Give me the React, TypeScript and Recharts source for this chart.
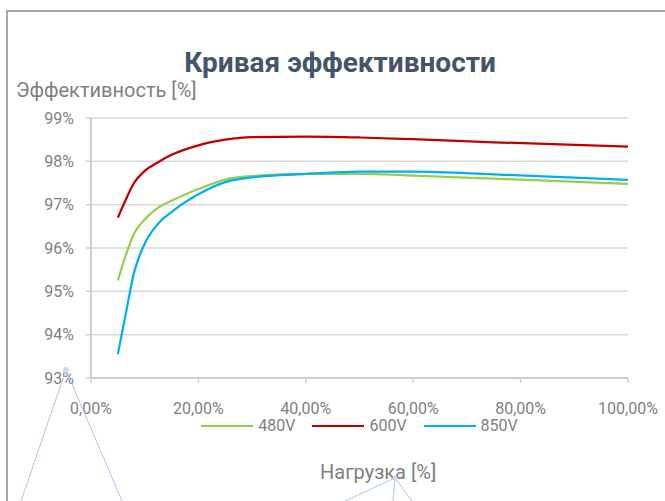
import React from "react";
import { CartesianGrid, Line, LineChart, XAxis, YAxis } from "recharts";

// load (%) and efficiency (%)
const load = [5, 6.5, 8, 10, 12.5, 15, 20, 25, 30, 40, 50, 60, 75, 100];
const eff480 = [95.25, 95.84, 96.33, 96.66, 96.93, 97.09, 97.36, 97.58, 97.66, 97.71, 97.71, 97.67, 97.6, 97.48];
const eff600 = [96.7, 97.12, 97.5, 97.78, 97.98, 98.15, 98.37, 98.5, 98.56, 98.57, 98.55, 98.51, 98.44, 98.34];
const eff850 = [93.55, 94.5, 95.42, 96.1, 96.56, 96.83, 97.24, 97.52, 97.63, 97.71, 97.76, 97.76, 97.7, 97.57];

const xTicks = [0, 20, 40, 60, 80, 100];
const yTicks = [93, 94, 95, 96, 97, 98, 99];

const series = [
  { key: "v480", name: "480V", color: "#92D050" },
  { key: "v600", name: "600V", color: "#C00000" },
  { key: "v850", name: "850V", color: "#00B0F0" },
];

const data = load.map((x, i) => ({ x, v480: eff480[i], v600: eff600[i], v850: eff850[i] }));

const FONT = "Roboto, 'Open Sans', sans-serif";
const TEXT = "#7F7F7F";

export default function App() {
  return (
    <div
      style={{
        position: "fixed",
        left: 0,
        top: 0,
        width: 665,
        height: 501,
        overflow: "hidden",
        background: "#fff",
        fontFamily: FONT,
      }}
    >
      <svg width={665} height={501} style={{ position: "absolute", left: 0, top: 0 }}>
        <line x1={7} y1={10} x2={7} y2={501} stroke="#A6A6A6" strokeWidth={2} />
        <line x1={6} y1={11} x2={665} y2={11} stroke="#A6A6A6" strokeWidth={2} />
        <text x={340} y={72} textAnchor="middle" fontSize={28} fontWeight={700} fill="#44546A" fontFamily={FONT}>
          Кривая эффективности
        </text>
        <text x={16} y={97} fontSize={20} fill={TEXT} fontFamily={FONT}>
          Эффективность [%]
        </text>
        <text x={320} y={479} fontSize={20} fill={TEXT} fontFamily={FONT}>
          Нагрузка [%]
        </text>
      </svg>
      <div style={{ position: "absolute", left: 0, top: 0 }}>
        <LineChart width={665} height={501} data={data} margin={{ top: 118, right: 37, left: 0, bottom: 93 }}>
          <CartesianGrid vertical={false} stroke="#D9D9D9" strokeWidth={1.5} />
          <XAxis
            dataKey="x"
            type="number"
            domain={[0, 100]}
            ticks={xTicks}
            height={30}
            tickFormatter={(v: number) => `${v.toFixed(2).replace(".", ",")}%`}
            tick={{ fill: TEXT, fontSize: 16, fontFamily: FONT }}
            axisLine={{ stroke: "#CFCFCF", strokeWidth: 2 }}
            tickLine={{ stroke: "#CFCFCF", strokeWidth: 1.5 }}
            tickSize={5}
            tickMargin={20}
            interval={0}
          />
          <YAxis
            type="number"
            domain={[93, 99]}
            ticks={yTicks}
            width={91}
            tickFormatter={(v: number) => `${v}%`}
            tick={{ fill: TEXT, fontSize: 16, fontFamily: FONT }}
            axisLine={{ stroke: "#CFCFCF", strokeWidth: 2 }}
            tickLine={{ stroke: "#CFCFCF", strokeWidth: 1.5 }}
            tickSize={5}
            tickMargin={12}
            interval={0}
          />
          {series.map((s) => (
            <Line
              key={s.key}
              dataKey={s.key}
              name={s.name}
              type="monotone"
              stroke={s.color}
              strokeWidth={2.25}
              dot={false}
              activeDot={false}
              isAnimationActive={false}
            />
          ))}
        </LineChart>
      </div>
      <div
        style={{
          position: "absolute",
          left: 91,
          width: 537,
          top: 418,
          height: 16,
          display: "flex",
          justifyContent: "center",
          alignItems: "center",
          gap: 17,
        }}
      >
        {series.map((s) => (
          <div key={s.key} style={{ display: "flex", alignItems: "center", gap: 5 }}>
            <span style={{ display: "inline-block", width: 52, height: 2, background: s.color }} />
            <span style={{ fontSize: 16, color: TEXT, lineHeight: "16px" }}>{s.name}</span>
          </div>
        ))}
      </div>
      <svg width={665} height={501} style={{ position: "absolute", left: 0, top: 0, pointerEvents: "none" }}>
        <g stroke="#A9C6EA" strokeWidth={1} fill="none">
          <line x1={66} y1={370} x2={21} y2={501} />
          <line x1={66} y1={370} x2={122} y2={501} />
          <line x1={395} y1={478} x2={345} y2={501} />
          <line x1={395} y1={478} x2={393} y2={501} />
          <line x1={395} y1={478} x2={412} y2={501} />
        </g>
        <circle cx={66} cy={370} r={3} fill="#C9D8EC" />
        <circle cx={395} cy={478} r={2.5} fill="#C9D8EC" />
      </svg>
    </div>
  );
}
